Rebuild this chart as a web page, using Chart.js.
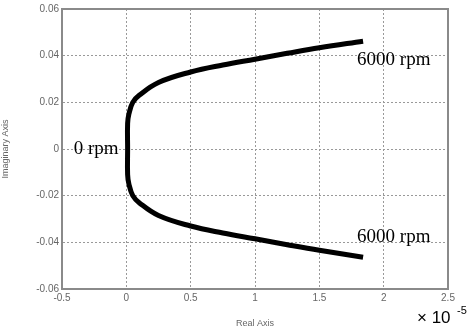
<!DOCTYPE html>
<html lang="en">
<head>
    <meta charset="UTF-8">
    <title>Root Locus</title>
    <style>
        body { margin: 0; padding: 0; background: #fff; }
        .wrap { width: 472px; height: 329px; position: relative; }
    </style>
</head>
<body>
    <div class="wrap">
        <canvas id="locus" width="472" height="329"></canvas>
    </div>

    <script src="https://cdn.jsdelivr.net/npm/chart.js"></script>
    <script>
        // upper branch, 0 rpm -> 6000 rpm (real part in units of 1e-5)
        const upperReal = [0.01, 0.01, 0.02, 0.05, 0.1, 0.25, 0.5, 0.75, 1.0, 1.25, 1.5, 1.84];
        const upperImag = [0, 0.011, 0.015, 0.02, 0.023, 0.0285, 0.033, 0.036, 0.0385, 0.041, 0.0434, 0.0462];
        // lower branch, 0 rpm -> 6000 rpm
        const lowerReal = [0.01, 0.01, 0.02, 0.05, 0.1, 0.25, 0.5, 0.75, 1.0, 1.25, 1.5, 1.84];
        const lowerImag = [0, -0.011, -0.015, -0.02, -0.023, -0.0285, -0.033, -0.036, -0.0385, -0.041, -0.0434, -0.0464];

        const xTickLabels = ['-0.5', '0', '0.5', '1', '1.5', '2', '2.5'];
        const yTickLabels = ['-0.06', '-0.04', '-0.02', '0', '0.02', '0.04', '0.06'];

        // whole locus as one line: upper end -> 0 rpm -> lower end
        const points = [];
        for (let i = upperReal.length - 1; i >= 0; i--) points.push({ x: upperReal[i], y: upperImag[i] });
        for (let i = 1; i < lowerReal.length; i++) points.push({ x: lowerReal[i], y: lowerImag[i] });

        const annotations = {
            id: 'annotations',
            afterDraw(chart) {
                const { ctx, chartArea, scales } = chart;
                ctx.save();
                // box around the axes
                ctx.strokeStyle = '#8a8a8a';
                ctx.lineWidth = 2;
                ctx.strokeRect(chartArea.left, chartArea.top, chartArea.right - chartArea.left, chartArea.bottom - chartArea.top);

                // rpm labels
                ctx.font = '19px "Liberation Serif", serif';
                ctx.fillStyle = '#000';
                ctx.textBaseline = 'middle';
                ctx.textAlign = 'left';
                const up = upperReal.length - 1;
                const lo = lowerReal.length - 1;
                ctx.fillText('6000 rpm', scales.x.getPixelForValue(upperReal[up]) - 6, scales.y.getPixelForValue(upperImag[up]) + 19);
                ctx.fillText('6000 rpm', scales.x.getPixelForValue(lowerReal[lo]) - 6, scales.y.getPixelForValue(lowerImag[lo]) - 20);
                ctx.textAlign = 'right';
                ctx.fillText('0 rpm', scales.x.getPixelForValue(upperReal[0]) - 9, scales.y.getPixelForValue(0));

                // exponent
                ctx.font = '17px "Liberation Sans", Arial, sans-serif';
                ctx.textAlign = 'left';
                ctx.fillText('\u00d7 10', 417, 318);
                ctx.font = '11px "Liberation Sans", Arial, sans-serif';
                ctx.fillText('-5', 457, 311);
                ctx.restore();
            }
        };

        new Chart(document.getElementById('locus'), {
            type: 'scatter',
            data: {
                datasets: [{
                    data: points,
                    showLine: true,
                    borderColor: '#000',
                    borderWidth: 5,
                    pointRadius: 0,
                    tension: 0.4
                }]
            },
            options: {
                responsive: false,
                animation: false,
                layout: { padding: { top: 7, right: 24, left: 0, bottom: 0 } },
                plugins: { legend: { display: false }, tooltip: { enabled: false } },
                scales: {
                    x: {
                        type: 'linear',
                        min: -0.5,
                        max: 2.5,
                        afterFit(scale) { scale.height = 40; },
                        ticks: {
                            stepSize: 0.5,
                            padding: 3,
                            color: '#666',
                            font: { size: 10, family: '"Liberation Sans Narrow", "Liberation Sans", Arial, sans-serif' },
                            callback: (v, i) => xTickLabels[i]
                        },
                        grid: { color: '#999', lineWidth: 1, drawTicks: false },
                        border: { color: '#8a8a8a', width: 2, dash: [2, 2] },
                        title: {
                            display: true,
                            text: 'Real Axis',
                            color: '#666',
                            padding: { top: 2, bottom: 0 },
                            font: { size: 9, family: '"Liberation Sans", Arial, sans-serif' }
                        }
                    },
                    y: {
                        type: 'linear',
                        min: -0.06,
                        max: 0.06,
                        afterFit(scale) { scale.width = 62; },
                        ticks: {
                            stepSize: 0.02,
                            padding: 3,
                            color: '#666',
                            font: { size: 10, family: '"Liberation Sans Narrow", "Liberation Sans", Arial, sans-serif' },
                            callback: (v, i) => yTickLabels[i]
                        },
                        grid: { color: '#999', lineWidth: 1, drawTicks: false },
                        border: { color: '#8a8a8a', width: 2, dash: [2, 2] },
                        title: {
                            display: true,
                            text: 'Imaginary Axis',
                            color: '#666',
                            padding: { top: 0, bottom: 10 },
                            font: { size: 9, family: '"Liberation Sans", Arial, sans-serif' }
                        }
                    }
                }
            },
            plugins: [annotations]
        });
    </script>
</body>
</html>
